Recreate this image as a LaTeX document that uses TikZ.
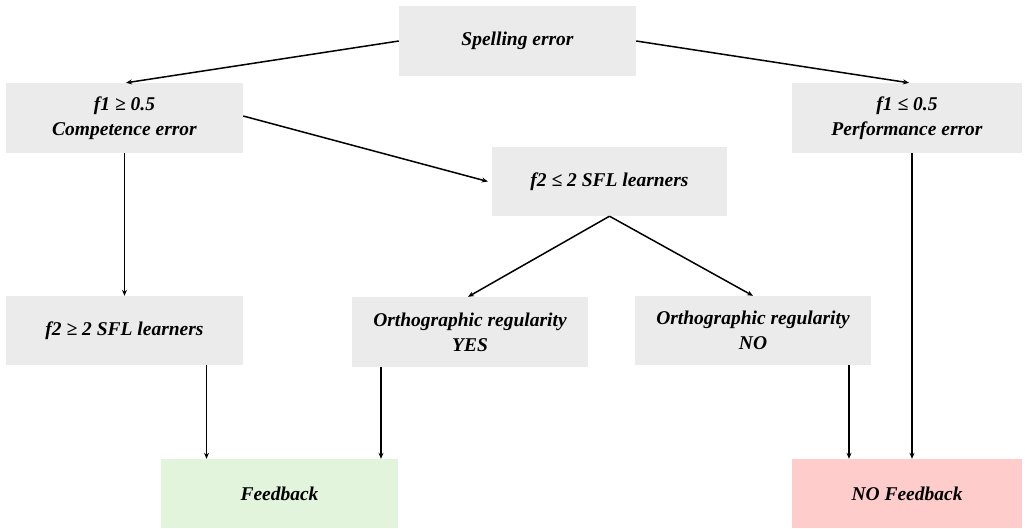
\documentclass[tikz,border=0pt]{standalone}
\usepackage{fontspec}
\setmainfont{Liberation Serif}
\usetikzlibrary{arrows.meta,positioning}
\definecolor{boxgray}{HTML}{EBEBEB}
\definecolor{boxgreen}{HTML}{E2F5DC}
\definecolor{boxpink}{HTML}{FFCCCC}
\begin{document}
\begin{tikzpicture}[x=1pt,y=-1pt,
  box/.style={fill=boxgray, draw=none, minimum width=237pt, minimum height=70pt,
    inner sep=0pt, align=center, font=\fontsize{19.5}{25}\selectfont\bfseries\itshape},
  arr/.style={line width=1.5pt, -{Stealth[length=6pt,width=5pt]}}]
\useasboundingbox (0,0) rectangle (1025,528);
\node[box] (spell) at (517.5,41) {Spelling error};
\node[box] (f1ge) at (124.5,118) {f1 ≥ 0.5\\Competence error};
\node[box, minimum width=230pt] (f1le) at (907,118) {f1 ≤ 0.5\\Performance error};
\node[box, minimum width=235pt, minimum height=69pt] (f2le) at (609.5,181.5) {f2 ≤ 2 SFL learners};
\node[box, minimum height=69pt] (f2ge) at (124.5,330.5) {f2 ≥ 2 SFL learners};
\node[box, minimum width=236pt] (oyes) at (470,332) {Orthographic regularity\\YES};
\node[box, minimum width=236pt, minimum height=69pt] (ono) at (753,330.5) {Orthographic regularity\\NO};
\node[box, fill=boxgreen, minimum height=69pt] (fb) at (279.5,493.5) {Feedback};
\node[box, fill=boxpink, minimum width=230pt, minimum height=69pt] (nofb) at (907,493.5) {NO Feedback};

\draw[arr] (spell.west) -- ([xshift=1.5pt]f1ge.north);
\draw[arr] (spell.east) -- ([xshift=2pt]f1le.north);
\draw[arr] ([yshift=2pt]f1ge.east) -- ([xshift=-4pt]f2le.west);
\draw[arr] (f1ge.south) -- (f2ge.north);
\draw[arr] (f2le.south) -- ([xshift=-2pt]oyes.north);
\draw[arr] (f2le.south) -- (ono.north);
\draw[arr] ([xshift=82pt]f2ge.south) -- ([xshift=82pt]f2ge.south |- fb.north);
\draw[arr] ([xshift=-89pt]oyes.south) -- ([xshift=-89pt]oyes.south |- fb.north);
\draw[arr] ([xshift=96pt]ono.south) -- ([xshift=96pt]ono.south |- nofb.north);
\draw[arr] ([xshift=5pt]f1le.south) -- ([xshift=5pt]f1le.south |- nofb.north);
\end{tikzpicture}
\end{document}
